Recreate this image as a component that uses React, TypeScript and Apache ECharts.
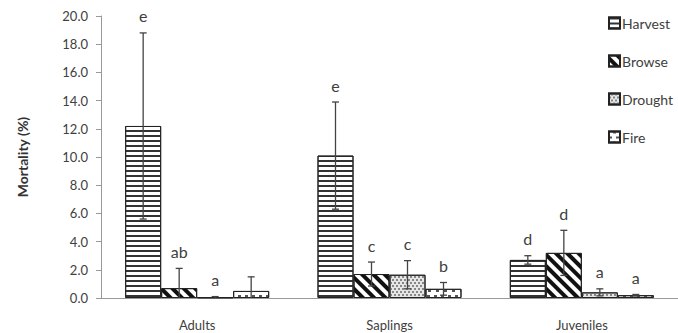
import React, { useEffect, useRef } from "react";
import * as echarts from "echarts";

const categories = ["Adults", "Saplings", "Juveniles"];
const seriesNames = ["Harvest", "Browse", "Drought", "Fire"];
const harvest = [12.2, 10.1, 2.7];
const browse = [0.7, 1.7, 3.2];
const drought = [0.05, 1.65, 0.4];
const fire = [0.5, 0.65, 0.2];
const harvestErr = [6.6, 3.8, 0.3];
const browseErr = [1.4, 0.85, 1.6];
const droughtErr = [0.05, 1.0, 0.25];
const fireErr = [1.0, 0.45, 0.05];
const harvestLetters = ["e", "e", "d"];
const browseLetters = ["ab", "c", "d"];
const droughtLetters = ["a", "c", "a"];
const fireLetters = ["", "b", "a"];
const yTicks = [0, 20, 2];

const FONT = "Lato, 'Open Sans', sans-serif";
const TXT = "#404040";
const BAR_W = 36;

export default function App() {
  const ref = useRef<HTMLDivElement>(null);
  useEffect(() => {
    if (!ref.current) return;
    const chart = echarts.init(ref.current, null, { renderer: "svg" });
    const values = [harvest, browse, drought, fire];
    const errs = [harvestErr, browseErr, droughtErr, fireErr];
    const letters = [harvestLetters, browseLetters, droughtLetters, fireLetters];
    const decals: any[] = [
      { symbol: "rect", symbolSize: 1, dashArrayX: [1, 0], dashArrayY: [1.5, 3], color: "#333", rotation: 0 },
      { symbol: "rect", symbolSize: 1, dashArrayX: [1, 0], dashArrayY: [4, 4], color: "#111", rotation: Math.PI / 4 },
      { symbol: "rect", symbolSize: 1, dashArrayX: [[1.5, 1.5], [0, 1.5, 1.5, 0]], dashArrayY: [1.5, 1], color: "#888", rotation: 0 },
      { symbol: "rect", symbolSize: 1, dashArrayX: [[3, 4], [0, 3.5, 3, 0.5]], dashArrayY: [1.5, 3], color: "#555", rotation: 0 },
    ];
    const bgColors = ["#ffffff", "#ffffff", "#e6e6e6", "#ffffff"];
    const items: { cat: number; s: number; v: number; e: number; l: string }[] = [];
    for (let s = 0; s < 4; s++) {
      for (let c = 0; c < categories.length; c++) {
        items.push({ cat: c, s, v: values[s][c], e: errs[s][c], l: letters[s][c] });
      }
    }
    const barSeries = seriesNames.map((name, i) => ({
      name,
      type: "bar",
      data: values[i],
      barWidth: BAR_W,
      barGap: "0%",
      itemStyle: {
        color: bgColors[i],
        borderColor: "#222",
        borderWidth: 1,
        decal: decals[i],
      },
      z: 2,
    }));
    chart.setOption({
      animation: false,
      grid: { left: 101, right: -10, top: 16, bottom: 35, containLabel: false },
      legend: {
        orient: "vertical",
        left: 603,
        top: 11,
        itemWidth: 11,
        itemHeight: 11,
        itemGap: 24,
        icon: "rect",
        data: seriesNames,
        textStyle: { fontFamily: FONT, fontSize: 14, color: TXT, padding: [0, 0, 0, -3] },
      },
      xAxis: {
        type: "category",
        data: categories,
        axisLine: { lineStyle: { color: "#999" } },
        axisTick: { show: false },
        axisLabel: { fontFamily: FONT, fontSize: 13, color: TXT, margin: 20 },
      },
      yAxis: {
        type: "value",
        min: yTicks[0],
        max: yTicks[1],
        interval: yTicks[2],
        name: "Mortality (%)",
        nameLocation: "middle",
        nameGap: 72,
        nameTextStyle: { fontFamily: FONT, fontSize: 14, fontWeight: "bold", color: "#333" },
        axisLine: { show: true, lineStyle: { color: "#999" } },
        axisTick: { show: true, length: 5, lineStyle: { color: "#999" } },
        splitLine: { show: false },
        axisLabel: {
          fontFamily: FONT,
          fontSize: 13,
          color: TXT,
          margin: 13,
          formatter: (v: number) => v.toFixed(1),
        },
      },
      series: [
        ...barSeries,
        {
          type: "custom",
          name: "errors",
          z: 5,
          clip: false,
          data: items.map((it) => [it.cat, it.v + it.e]),
          encode: { x: 0, y: 1 },
          renderItem: (params: any, api: any) => {
            const it = items[params.dataIndex];
            const c = api.coord([it.cat, 0]);
            const x = c[0] + (it.s - 1.5) * BAR_W;
            const yTop = api.coord([it.cat, it.v + it.e])[1];
            const yBot = api.coord([it.cat, Math.max(it.v - it.e, 0)])[1];
            const ls = { stroke: "#444", lineWidth: 1.3 };
            const children: any[] = [
              { type: "line", shape: { x1: x, y1: yTop, x2: x, y2: yBot }, style: ls },
              { type: "line", shape: { x1: x - 3.5, y1: yTop, x2: x + 3.5, y2: yTop }, style: ls },
            ];
            if (it.v - it.e > 0.02) {
              children.push({ type: "line", shape: { x1: x - 3.5, y1: yBot, x2: x + 3.5, y2: yBot }, style: ls });
            }
            if (it.l) {
              children.push({
                type: "text",
                style: {
                  text: it.l,
                  x,
                  y: yTop - 17,
                  align: "center",
                  verticalAlign: "middle",
                  fontFamily: FONT,
                  fontSize: 16,
                  fill: TXT,
                },
              });
            }
            return { type: "group", children };
          },
        },
      ],
    });
    return () => chart.dispose();
  }, []);
  return <div ref={ref} style={{ width: 678, height: 333, position: "absolute", left: 0, top: 0 }} />;
}
